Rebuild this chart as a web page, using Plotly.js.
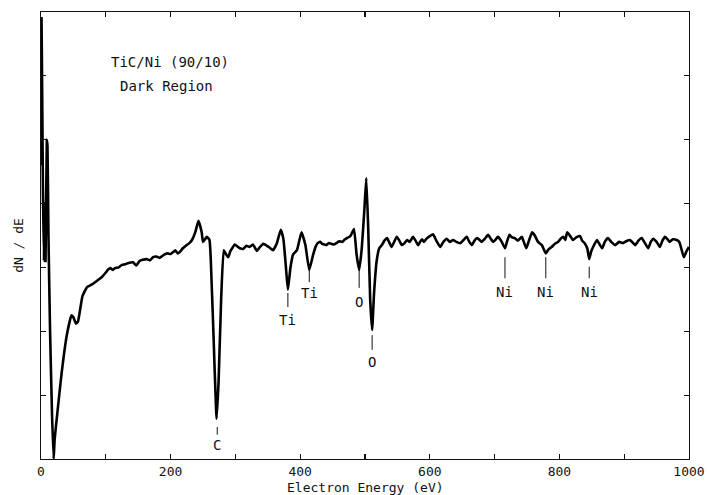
<!DOCTYPE html>
<html>
<head>
<meta charset="utf-8">
<script src="https://cdn.plot.ly/plotly-3.0.1.min.js"></script>
<style>html,body{margin:0;padding:0;background:#fff;}#chart{width:707px;height:495px;}</style>
</head>
<body>
<div id="chart"></div>
<script>
// Electron energy (eV)
const energy = [0,0.8,2,3,4.5,5.5,7,9,10,11.5,14,17,19.5,21,25,32,40,47,50,54,57,64,71,78,85,94,
 100,104,107,111,114,120,125,130,135,142,147,152,157,163,168,173,178,183,190,195,200,204,207,211,214,219,225,229,233,238,243,248,250,256,260,262,266,271,274,278,
 282,286,289,292,295,299,303,307,312,317,322,327,333,338,343,347,350,354,358,364,370,374,378,381,385,389,395,402,408,414,
 420,424,427,431,434,437,440,444,448,452,456,460,465,469,472,476,478,483,487,491,495,499,502,505,508,511,514,518,
 522,526,530,534,538,541,545,549,553,557,561,565,569,574,578,582,585,588,591,595,600,605,610,616,621,626,631,636,641,647,652,657,661,665,669,673,677,680,685,690,694,698,702,705,710,716,719,723,727,731,736,742,745,749,753,758,762,767,773,779,783,788,793,798,802,806,809,812,816,821,826,832,835,839,843,846,849,852,855,858,862,866,870,875,880,886,892,898,903,909,913,917,922,927,932,937,941,945,950,955,959,963,967,970,975,981,985,988,992,996,1000];
// dN/dE (arbitrary units)
const dNdE = [4.6,6.9,5.5,4.2,3.1,4.0,3.1,5.0,4.9,3.5,2.0,0.7,0,0.3,0.7,1.36,1.95,2.25,2.22,2.12,2.15,2.55,2.69,2.73,2.78,2.85,
 2.92,2.97,2.99,2.96,2.99,3.0,3.04,3.05,3.07,3.08,3.03,3.1,3.12,3.13,3.11,3.16,3.17,3.15,3.2,3.22,3.21,3.24,3.27,3.22,3.24,3.30,3.35,3.38,3.43,3.55,3.73,3.55,3.40,3.48,3.43,3.12,2.0,0.63,1.2,2.5,
 3.27,3.2,3.16,3.25,3.3,3.36,3.33,3.30,3.29,3.34,3.32,3.36,3.26,3.32,3.37,3.35,3.33,3.30,3.27,3.38,3.59,3.45,3.0,2.65,3.0,3.2,3.27,3.55,3.35,2.96,
 3.2,3.33,3.38,3.40,3.37,3.36,3.35,3.38,3.37,3.36,3.38,3.41,3.40,3.44,3.46,3.48,3.5,3.60,3.2,2.96,3.3,3.9,4.40,3.6,2.5,2.02,2.6,3.1,
 3.3,3.35,3.42,3.46,3.38,3.32,3.40,3.48,3.42,3.35,3.38,3.43,3.40,3.48,3.42,3.35,3.40,3.44,3.40,3.45,3.49,3.52,3.42,3.32,3.40,3.45,3.40,3.43,3.40,3.38,3.43,3.48,3.40,3.35,3.42,3.46,3.43,3.40,3.45,3.51,3.45,3.40,3.44,3.48,3.42,3.30,3.40,3.51,3.47,3.46,3.42,3.48,3.40,3.30,3.42,3.55,3.50,3.40,3.35,3.22,3.28,3.32,3.37,3.40,3.45,3.48,3.43,3.55,3.50,3.43,3.47,3.49,3.42,3.38,3.30,3.13,3.25,3.32,3.38,3.43,3.36,3.30,3.40,3.46,3.40,3.35,3.40,3.38,3.41,3.43,3.39,3.35,3.42,3.46,3.38,3.30,3.40,3.45,3.40,3.32,3.42,3.48,3.44,3.40,3.44,3.43,3.40,3.30,3.16,3.25,3.32];

// Peak labels
const peakNames = ["C","Ti","Ti","O","O","Ni","Ni","Ni"];
const peakEnergy = [272,381,414,491,511,716,779,846];
const markTop = [0.50,2.60,2.96,2.99,1.94,3.16,3.16,3.01];
const markBottom = [0.38,2.38,2.77,2.68,1.71,2.83,2.83,2.83];
const labelY = [0.22,2.18,2.60,2.46,1.52,2.62,2.62,2.62];

const tickVals = [0,100,200,300,400,500,600,700,800,900,1000];
const tickText = ["0","","200","","400","","600","","800","","1000"];

const fontFam = "DejaVu Sans Mono, monospace";
const ink = "#111";

const shapes = peakEnergy.map((e,i)=>({type:"line",xref:"x",yref:"y",x0:e,x1:e,y0:markBottom[i],y1:markTop[i],line:{color:ink,width:1}}));
const annotations = peakEnergy.map((e,i)=>({xref:"x",yref:"y",x:e,y:labelY[i],text:peakNames[i],showarrow:false,font:{family:fontFam,size:14,color:ink},xanchor:"center",yanchor:"middle"}));
annotations.push(
 {xref:"paper",yref:"paper",x:0.199,y:0.888,text:"TiC/Ni (90/10)",showarrow:false,font:{family:fontFam,size:14,color:ink},xanchor:"center",yanchor:"middle"},
 {xref:"paper",yref:"paper",x:0.194,y:0.834,text:"Dark Region",showarrow:false,font:{family:fontFam,size:14,color:ink},xanchor:"center",yanchor:"middle"},
 {xref:"paper",yref:"paper",x:0.5,y:-0.063,text:"Electron Energy (eV)",showarrow:false,font:{family:fontFam,size:13,color:ink},xanchor:"center",yanchor:"middle"},
 {xref:"paper",yref:"paper",x:-0.034,y:0.479,text:"dN / dE",textangle:-90,showarrow:false,font:{family:fontFam,size:13,color:ink},xanchor:"center",yanchor:"middle"}
);

const trace = {x:energy,y:dNdE,type:"scatter",mode:"lines",line:{color:"#000",width:2.6,shape:"spline",smoothing:0.4},hoverinfo:"skip"};

const layout = {
  width:707,height:495,
  margin:{l:41,r:18,t:12,b:36},
  paper_bgcolor:"#fff",plot_bgcolor:"#fff",
  showlegend:false,
  xaxis:{range:[0,1000],tickmode:"array",tickvals:tickVals,ticktext:tickText,ticks:"inside",ticklen:5,tickwidth:1.2,tickcolor:ink,
         showline:true,linecolor:ink,linewidth:1.3,mirror:"ticks",showgrid:false,zeroline:false,
         tickfont:{family:fontFam,size:13,color:ink}},
  yaxis:{range:[0,7],dtick:1,tick0:0,ticks:"inside",ticklen:5,tickwidth:1.2,tickcolor:ink,showticklabels:false,
         showline:true,linecolor:ink,linewidth:1.3,mirror:"ticks",showgrid:false,zeroline:false},
  shapes:shapes,
  annotations:annotations
};
Plotly.newPlot("chart",[trace],layout,{staticPlot:true,displayModeBar:false});
</script>
</body>
</html>
